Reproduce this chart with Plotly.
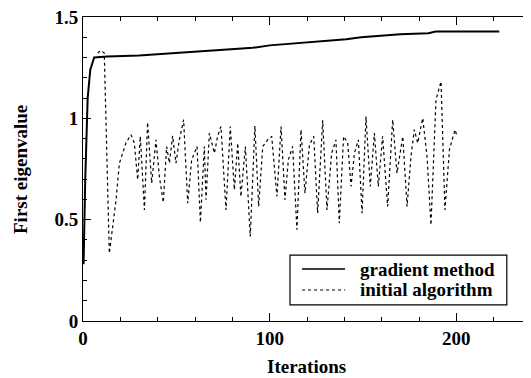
import plotly.graph_objects as go

# Gradient method (solid)
grad_iter = [0.3, 1.2, 2.5, 3.9, 6, 13, 30, 60, 91, 100, 120, 141, 149, 170, 185, 189, 223]
grad_val = [0.28, 0.70, 1.10, 1.24, 1.30, 1.305, 1.31, 1.33, 1.348, 1.36, 1.375, 1.39, 1.40, 1.415, 1.42, 1.428, 1.428]

# Initial algorithm (dotted)
init_iter = [7.9, 9.6, 11.4, 14.1, 17.7, 19.5, 20.7, 23.0, 25.7, 27.5, 29.3, 30.7, 32.9, 34.6, 36.8,
             39.1, 40.9, 43.0, 44.8, 46.3, 48.0, 49.8, 51.6, 53.9, 56.1, 58.2, 61.1, 62.9, 65.0, 65.9,
             67.7, 70.4, 72.1, 73.9, 76.6, 78.9, 81.1, 82.9, 84.6, 87.0, 89.6, 92.1, 94.1, 96.3, 98.9,
             101.1, 103.9, 106.1, 108.2, 110.0, 112.3, 114.6, 116.8, 118.9, 121.3, 123.6, 125.7, 128.4,
             130.7, 133.2, 135.5, 137.3, 139.6, 141.8, 143.6, 145.4, 147.5, 149.5, 151.6, 153.9, 156.1,
             158.2, 160.5, 163.2, 165.9, 168.2, 171.3, 173.6, 175.7, 177.5, 179.3, 182.0, 184.3, 186.4,
             189.1, 191.8, 193.9, 196.3, 199.3, 200.4]
init_val = [1.322, 1.335, 1.322, 0.334, 0.598, 0.779, 0.812, 0.878, 0.919, 0.878, 0.697, 0.911, 0.548,
            0.980, 0.680, 0.894, 0.713, 0.585, 0.861, 0.779, 0.914, 0.779, 0.894, 0.993, 0.581, 0.795,
            0.861, 0.486, 0.861, 0.598, 0.927, 0.828, 0.911, 0.960, 0.548, 0.960, 0.647, 0.878, 0.614,
            0.861, 0.417, 0.963, 0.565, 0.861, 0.894, 0.911, 0.614, 0.960, 0.598, 0.795, 0.861, 0.450,
            0.944, 0.631, 0.869, 0.911, 0.532, 0.990, 0.548, 0.828, 0.894, 0.482, 0.911, 0.878, 0.664,
            0.828, 0.894, 0.532, 1.009, 0.664, 0.927, 0.664, 0.911, 0.565, 0.993, 0.729, 0.911, 0.565,
            0.812, 0.944, 0.878, 1.001, 0.812, 0.474, 1.092, 1.182, 0.548, 0.845, 0.944, 0.911]

series_names = ["gradient method", "initial algorithm"]
x_ticks = [0, 100, 200]
y_ticks = [0, 0.5, 1, 1.5]
y_tick_labels = ["0", "0.5", "1", "1.5"]

FONT = "Liberation Serif, Times New Roman, serif"

fig = go.Figure()
fig.add_trace(go.Scatter(x=grad_iter, y=grad_val, mode="lines", name=series_names[0],
                         line=dict(color="black", width=2), showlegend=False))
fig.add_trace(go.Scatter(x=init_iter, y=init_val, mode="lines", name=series_names[1],
                         line=dict(color="black", width=1.2, dash="dot"), showlegend=False))

# Legend box drawn by hand (paper coordinates)
LX0, LX1, LY0, LY1 = 0.462, 0.946, 0.053, 0.217
SX0, SX1, TX = 0.489, 0.585, 0.614
ROW_Y = [0.171, 0.102]
shapes = [dict(type="rect", xref="paper", yref="paper", x0=LX0, x1=LX1, y0=LY0, y1=LY1,
               line=dict(color="black", width=1.2), fillcolor="white", layer="above")]
shapes.append(dict(type="line", xref="paper", yref="paper", x0=SX0, x1=SX1, y0=ROW_Y[0], y1=ROW_Y[0],
                   line=dict(color="black", width=1.5), layer="above"))
shapes.append(dict(type="line", xref="paper", yref="paper", x0=SX0, x1=SX1, y0=ROW_Y[1], y1=ROW_Y[1],
                   line=dict(color="black", width=1.2, dash="dot"), layer="above"))

annotations = [
    dict(text="<b>Iterations</b>", xref="paper", yref="paper", x=(306 - 83) / 448, y=-(366 - 321) / 304,
         xanchor="center", yanchor="middle", showarrow=False, font=dict(family=FONT, size=19)),
    dict(text="<b>First eigenvalue</b>", xref="paper", yref="paper", x=-(83 - 20) / 448, y=(321 - 170) / 304,
         xanchor="center", yanchor="middle", textangle=-90, showarrow=False, font=dict(family=FONT, size=19)),
]
for name, ry in zip(series_names, ROW_Y):
    annotations.append(dict(text="<b>%s</b>" % name, xref="paper", yref="paper", x=TX, y=ry,
                            xanchor="left", yanchor="middle", showarrow=False,
                            font=dict(family=FONT, size=19)))

# Note: page body has an 8px default margin, so the figure is made 8px smaller
fig.update_layout(
    width=523, height=370,
    margin=dict(l=75, r=0, t=9, b=57, autoexpand=False),
    paper_bgcolor="white", plot_bgcolor="white",
    font=dict(family=FONT, size=19, color="black"),
    showlegend=False,
    xaxis=dict(range=[0, 240], tickvals=x_ticks, ticktext=["<b>%d</b>" % v for v in x_ticks],
               ticks="inside", ticklen=8, tickwidth=1, tickcolor="black",
               showline=True, linecolor="black", linewidth=1, mirror="allticks",
               showgrid=False, zeroline=False, automargin=False, ticklabeloverflow="allow",
               tickfont=dict(family=FONT, size=19),
               minor=dict(dtick=20, tick0=0, ticks="inside", ticklen=4, tickcolor="black", showgrid=False)),
    yaxis=dict(range=[0, 1.5], tickvals=y_ticks, ticktext=["<b>%s</b>" % t for t in y_tick_labels],
               ticks="inside", ticklen=8, tickwidth=1, tickcolor="black",
               showline=True, linecolor="black", linewidth=1, mirror=False,
               showgrid=False, zeroline=False, automargin=False, ticklabeloverflow="allow",
               tickfont=dict(family=FONT, size=19),
               minor=dict(dtick=0.1, tick0=0, ticks="inside", ticklen=4, tickcolor="black", showgrid=False)),
    shapes=shapes,
    annotations=annotations,
)

fig.write_html("out.html")
